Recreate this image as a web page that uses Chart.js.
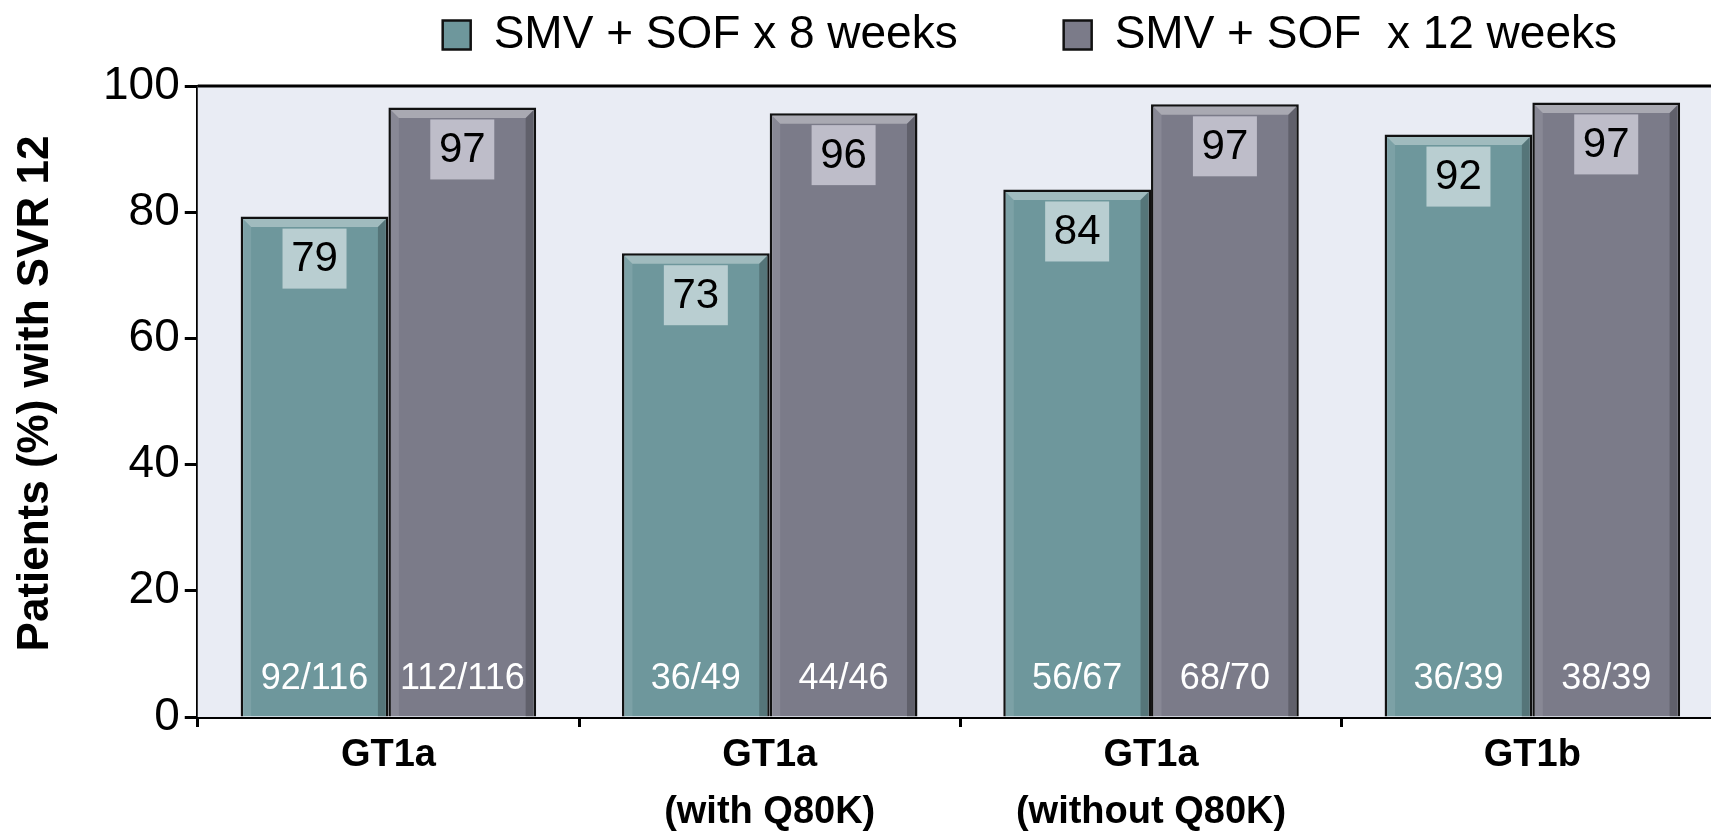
<!DOCTYPE html>
<html>
<head>
<meta charset="utf-8">
<script src="https://cdn.jsdelivr.net/npm/chart.js@4.4.1/dist/chart.umd.min.js"></script>
<style>
  html, body { margin: 0; padding: 0; background: #fff; overflow: hidden; }
</style>
</head>
<body>
<canvas id="myChart" width="1723" height="841"></canvas>
<script>
var categories = [['GT1a'], ['GT1a', '(with Q80K)'], ['GT1a', '(without Q80K)'], ['GT1b']];
var seriesNames = ['SMV + SOF x 8 weeks', 'SMV + SOF  x 12 weeks'];
var svr8 = [79.3, 73.5, 83.6, 92.3];
var svr12 = [96.6, 95.7, 97.1, 97.4];
var svr8Labels = ['79', '73', '84', '92'];
var svr12Labels = ['97', '96', '97', '97'];
var svr8Counts = ['92/116', '36/49', '56/67', '36/39'];
var svr12Counts = ['112/116', '44/46', '68/70', '38/39'];
var yTicks = [0, 20, 40, 60, 80, 100];
var yTitle = 'Patients (%) with SVR 12';

var FONT = "'Liberation Sans', Arial, sans-serif";
var boxColors = ['#b9ced1', '#bebdc9'];
var valueLabels = [svr8Labels, svr12Labels];
var countLabels = [svr8Counts, svr12Counts];

// plot background + top frame line
var plotBackground = {
    id: 'plotBackground',
    beforeDatasetsDraw: function(chart) {
        var a = chart.chartArea, ctx = chart.ctx;
        ctx.save();
        ctx.fillStyle = '#e9ecf4';
        ctx.fillRect(a.left, a.top, a.right - a.left, a.bottom - a.top);
        ctx.strokeStyle = '#000';
        ctx.lineWidth = 3;
        ctx.beginPath();
        ctx.moveTo(a.left, a.top);
        ctx.lineTo(a.right, a.top);
        ctx.stroke();
        ctx.restore();
    }
};

// legend sits high in the original, so pull it up (keep bottom so clip still covers it)
var legendNudge = {
    id: 'legendNudge',
    afterLayout: function(chart) {
        var lg = chart.legend;
        var pad = lg.options.labels.padding;
        lg.top = 12 - pad;
    }
};

// bevel, value boxes, n/N counts
var barDecor = {
    id: 'barDecor',
    afterDatasetsDraw: function(chart) {
        var ctx = chart.ctx;
        chart.data.datasets.forEach(function(ds, di) {
            var meta = chart.getDatasetMeta(di);
            meta.data.forEach(function(bar, i) {
                var p = bar.getProps(['x', 'y', 'base', 'width'], true);
                var bw = 2.5, b = 8;
                var L = p.x - p.width / 2 + bw, R = p.x + p.width / 2 - bw;
                var T = p.y + bw, B = p.base;
                ctx.save();
                ctx.fillStyle = 'rgba(255,255,255,0.35)';
                ctx.beginPath();
                ctx.moveTo(L, T); ctx.lineTo(R, T); ctx.lineTo(R - b, T + b); ctx.lineTo(L + b, T + b);
                ctx.closePath(); ctx.fill();
                ctx.fillStyle = 'rgba(255,255,255,0.10)';
                ctx.beginPath();
                ctx.moveTo(L, T); ctx.lineTo(L + b, T + b); ctx.lineTo(L + b, B); ctx.lineTo(L, B);
                ctx.closePath(); ctx.fill();
                ctx.fillStyle = 'rgba(0,0,0,0.22)';
                ctx.beginPath();
                ctx.moveTo(R, T); ctx.lineTo(R, B); ctx.lineTo(R - b, B); ctx.lineTo(R - b, T + b);
                ctx.closePath(); ctx.fill();

                // value box
                ctx.fillStyle = boxColors[di];
                ctx.fillRect(p.x - 32, p.y + 12, 64, 60);
                ctx.fillStyle = '#000';
                ctx.font = '42px ' + FONT;
                ctx.textAlign = 'center';
                ctx.textBaseline = 'middle';
                ctx.fillText(valueLabels[di][i], p.x, p.y + 43);

                // counts near base
                ctx.fillStyle = '#fff';
                ctx.font = '36px ' + FONT;
                ctx.fillText(countLabels[di][i], p.x, p.base - 37);
                ctx.restore();
            });
        });
    }
};

// rotated y title
var yTitlePlugin = {
    id: 'yTitlePlugin',
    afterDraw: function(chart) {
        var s = chart.scales.y, ctx = chart.ctx;
        ctx.save();
        ctx.translate(36, (s.top + s.bottom) / 2 - 8);
        ctx.rotate(-Math.PI / 2);
        ctx.font = 'bold 44px ' + FONT;
        ctx.fillStyle = '#000';
        ctx.textAlign = 'center';
        ctx.textBaseline = 'middle';
        ctx.fillText(yTitle, 0, 0);
        ctx.restore();
    }
};

var ctx = document.getElementById('myChart').getContext('2d');
var myChart = new Chart(ctx, {
    type: 'bar',
    data: {
        labels: categories,
        datasets: [{
            label: seriesNames[0],
            data: svr8,
            backgroundColor: '#6e979c',
            borderColor: '#111',
            borderWidth: 2.5,
            categoryPercentage: 0.775,
            barPercentage: 1
        }, {
            label: seriesNames[1],
            data: svr12,
            backgroundColor: '#7b7b89',
            borderColor: '#111',
            borderWidth: 2.5,
            categoryPercentage: 0.775,
            barPercentage: 1
        }]
    },
    options: {
        responsive: false,
        animation: false,
        layout: { padding: { left: 98, right: 0, top: 0, bottom: 0 } },
        plugins: {
            legend: {
                position: 'top',
                align: 'end',
                maxHeight: 86,
                labels: {
                    font: { family: FONT, size: 46 },
                    color: '#000',
                    boxWidth: 28,
                    boxHeight: 29,
                    padding: 106
                }
            },
            tooltip: { enabled: false }
        },
        scales: {
            x: {
                offset: true,
                grid: {
                    offset: true,
                    drawOnChartArea: false,
                    tickLength: 10,
                    tickWidth: 3,
                    tickColor: '#000'
                },
                border: { color: '#000', width: 3 },
                ticks: {
                    font: { family: FONT, size: 38, weight: 'bold', lineHeight: 1.5 },
                    color: '#000',
                    padding: 0,
                    maxRotation: 0,
                    autoSkip: false
                }
            },
            y: {
                min: 0,
                max: 100,
                afterBuildTicks: function(scale) {
                    scale.ticks = yTicks.map(function(v) { return { value: v }; });
                },
                grid: {
                    drawOnChartArea: false,
                    tickLength: 13,
                    tickWidth: 3,
                    tickColor: '#000'
                },
                border: { color: '#000', width: 3 },
                ticks: {
                    font: { family: FONT, size: 46 },
                    color: '#000',
                    padding: 5
                }
            }
        }
    },
    plugins: [plotBackground, legendNudge, barDecor, yTitlePlugin]
});
</script>
</body>
</html>
